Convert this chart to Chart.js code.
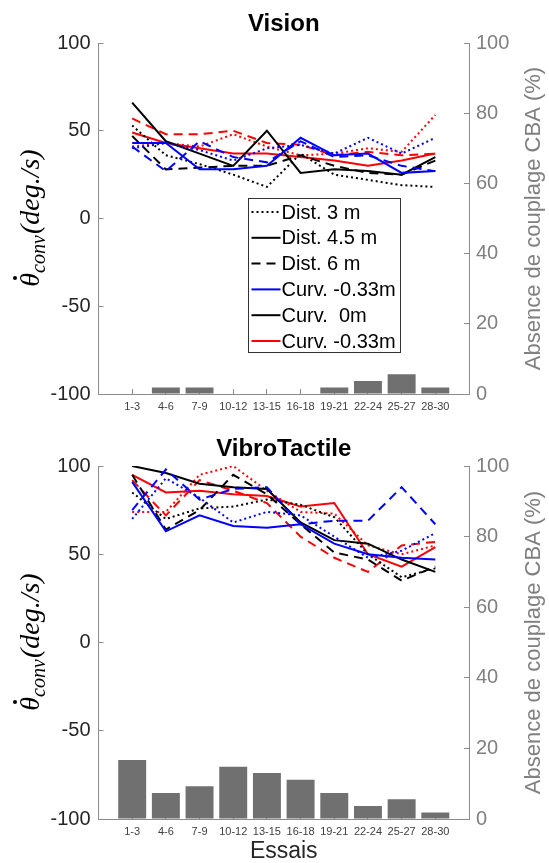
<!DOCTYPE html>
<html>
<head>
<meta charset="utf-8">
<style>
  html, body { margin: 0; padding: 0; background: #fff; }
  #wrap { position: relative; width: 549px; height: 863px; }
  canvas { position: absolute; left: 0; }
</style>
</head>
<body>
<div id="wrap">
  <canvas id="vision" width="549" height="432" style="top:0px"></canvas>
  <canvas id="vibro" width="549" height="431" style="top:432px"></canvas>
</div>

<script src="https://cdn.jsdelivr.net/npm/chart.js"></script>

<script>
    // x categories (trials), blanks at both ends leave the MATLAB-style margin
    var trials = ['1-3', '4-6', '7-9', '10-12', '13-15', '16-18', '19-21', '22-24', '25-27', '28-30'];

    // Vision : convergence speed (deg/s), colour = curvature, style = distance
    var visBlue3m   = [40, 43, 39, 33, 40, 42, 37, 46, 37, 46];
    var visBlue45m  = [43, 43, 28, 28, 30, 46, 36, 37, 26, 27];
    var visBlue6m   = [41, 27, 44, 35, 32, 44, 35, 36, 30, 27];
    var visBlack3m  = [53, 36, 31, 25, 18, 37, 25, 22, 19, 18];
    var visBlack45m = [66, 44, 37, 30, 50, 26, 28, 27, 25, 35];
    var visBlack6m  = [47, 28, 29, 30, 30, 36, 30, 26, 25, 33];
    var visRed3m    = [41, 43, 41, 48, 41, 36, 37, 40, 38, 59];
    var visRed45m   = [49, 43, 40, 37, 37, 35, 33, 30, 33, 37];
    var visRed6m    = [57, 48, 48, 50, 43, 42, 36, 38, 36, 37];
    // Vision : absence of CBA coupling (%)
    var visAbsence  = [0, 1.85, 1.85, 0, 0, 0, 1.85, 3.7, 5.6, 1.85];

    // VibroTactile
    var vibBlue3m   = [70, 93, 82, 68, 74, 72, 60, 48, 52, 62];
    var vibBlue45m  = [91, 63, 72, 66, 65, 67, 56, 50, 48, 47];
    var vibBlue6m   = [75, 98, 81, 87, 88, 67, 69, 69, 88, 67];
    var vibBlack3m  = [85, 70, 76, 77, 81, 78, 71, 50, 37, 42];
    var vibBlack45m = [100, 96, 90, 88, 87, 68, 58, 56, 47, 40];
    var vibBlack6m  = [95, 64, 75, 95, 84, 67, 51, 47, 35, 43];
    var vibRed3m    = [74, 74, 95, 100, 86, 74, 73, 55, 50, 55];
    var vibRed45m   = [95, 85, 86, 84, 83, 77, 79, 50, 43, 54];
    var vibRed6m    = [92, 72, 92, 86, 79, 60, 48, 40, 55, 57];
    var vibAbsence  = [16.7, 7.4, 9.3, 14.8, 13, 11.1, 7.4, 3.7, 5.6, 1.85];

    var legendLabels = ['Dist. 3 m', 'Dist. 4.5 m', 'Dist. 6 m', 'Curv. -0.33m', 'Curv.  0m', 'Curv. -0.33m'];

    var SANS = '"Liberation Sans", Arial, Helvetica, sans-serif';
    var SERIF = '"Liberation Serif", "DejaVu Serif", serif';
    var BLUE = '#0000ff', BLACK = '#000000', RED = '#ff0000';
    var DOT = [2, 3], SOLID = [], DASH = [9, 6];

    var legendStyles = [
        {color: BLACK, dash: DOT},
        {color: BLACK, dash: SOLID},
        {color: BLACK, dash: DASH},
        {color: BLUE, dash: SOLID},
        {color: BLACK, dash: SOLID},
        {color: RED, dash: SOLID}
    ];

    function pad(arr) {
        return [null].concat(arr, [null]);
    }

    function lineSet(values, color, dash) {
        return {
            type: 'line',
            data: pad(values),
            borderColor: color,
            borderWidth: 2,
            borderDash: dash,
            pointRadius: 0,
            fill: false,
            tension: 0,
            yAxisID: 'y',
            order: 1
        };
    }

    // titles, rotated axis labels, legend box
    var decor = {
        id: 'decor',
        afterDraw: function (chart, args, o) {
            var ctx = chart.ctx, a = chart.chartArea;
            var midY = (a.top + a.bottom) / 2;
            ctx.save();
            ctx.fillStyle = '#000';
            ctx.font = 'bold 24px ' + SANS;
            ctx.textAlign = 'center';
            ctx.textBaseline = 'middle';
            ctx.fillText(o.title, (a.left + a.right) / 2, o.titleY);

            // left label: theta-dot with "conv" subscript
            ctx.save();
            ctx.translate(39, midY);
            ctx.rotate(-Math.PI / 2);
            ctx.textAlign = 'left';
            ctx.textBaseline = 'alphabetic';
            var big = 'italic 28px ' + SERIF, small = 'italic 20px ' + SERIF;
            ctx.font = big;
            var w1 = ctx.measureText('\u03B8').width;
            var w3 = ctx.measureText('(deg./s)').width;
            ctx.font = small;
            var w2 = ctx.measureText('conv').width;
            var x = -(w1 + w2 + w3) / 2;
            ctx.font = big;
            ctx.fillText('\u03B8', x, 0);
            ctx.beginPath();
            ctx.arc(x + w1 * 0.62, -24, 2, 0, Math.PI * 2);
            ctx.fill();
            x += w1;
            ctx.font = small;
            ctx.fillText('conv', x, 6);
            x += w2 + 1;
            ctx.font = big;
            ctx.fillText('(deg./s)', x, 0);
            ctx.restore();

            // right label
            ctx.save();
            ctx.translate(540, midY);
            ctx.rotate(-Math.PI / 2);
            ctx.fillStyle = '#808080';
            ctx.font = '22px ' + SANS;
            ctx.textAlign = 'center';
            ctx.textBaseline = 'alphabetic';
            ctx.fillText('Absence de couplage CBA (%)', 0, 0);
            ctx.restore();

            if (o.legend) {
                var lx = 248.5, ly = 198.5, lw = 152, lh = 154, row = 25.8;
                ctx.fillStyle = '#fff';
                ctx.fillRect(lx, ly, lw, lh);
                ctx.strokeStyle = '#333';
                ctx.lineWidth = 1;
                ctx.strokeRect(lx, ly, lw, lh);
                ctx.font = '20px ' + SANS;
                ctx.textAlign = 'left';
                ctx.textBaseline = 'middle';
                for (var i = 0; i < legendLabels.length; i++) {
                    var cy = ly + 13.5 + i * row;
                    ctx.strokeStyle = legendStyles[i].color;
                    ctx.lineWidth = 2;
                    ctx.setLineDash(legendStyles[i].dash);
                    ctx.beginPath();
                    ctx.moveTo(lx + 3, cy);
                    ctx.lineTo(lx + 32, cy);
                    ctx.stroke();
                    ctx.setLineDash([]);
                    ctx.fillStyle = '#000';
                    ctx.fillText(legendLabels[i], lx + 33, cy + 1);
                }
            }
            ctx.restore();
        }
    };

    function makeChart(id, title, lines, bars, geo) {
        var datasets = [
            lineSet(lines[0], BLUE, DOT), lineSet(lines[1], BLUE, SOLID), lineSet(lines[2], BLUE, DASH),
            lineSet(lines[3], BLACK, DOT), lineSet(lines[4], BLACK, SOLID), lineSet(lines[5], BLACK, DASH),
            lineSet(lines[6], RED, DOT), lineSet(lines[7], RED, SOLID), lineSet(lines[8], RED, DASH),
            {
                type: 'bar',
                data: pad(bars),
                backgroundColor: '#707070',
                yAxisID: 'y2',
                barPercentage: 0.83,
                categoryPercentage: 1,
                order: 10
            }
        ];
        return new Chart(document.getElementById(id), {
            type: 'bar',
            data: {labels: [''].concat(trials, ['']), datasets: datasets},
            plugins: [decor],
            options: {
                responsive: false,
                animation: false,
                layout: {padding: {top: geo.top, left: 0, right: 0, bottom: 0}},
                plugins: {
                    legend: {display: false},
                    tooltip: {enabled: false},
                    decor: {title: title, titleY: geo.titleY, legend: geo.legend}
                },
                scales: {
                    x: {
                        type: 'category',
                        offset: false,
                        grid: {offset: false, drawOnChartArea: false, drawTicks: true, tickLength: -5, color: '#8c8c8c'},
                        border: {display: true, color: '#8c8c8c', width: 1},
                        ticks: {color: '#404040', font: {size: 11, family: SANS}, padding: 11, maxRotation: 0, autoSkip: false},
                        title: {
                            display: geo.xTitle, text: 'Essais', color: '#262626',
                            font: {size: 23, family: SANS, lineHeight: 1}, padding: {top: 0, bottom: 0}
                        },
                        afterFit: function (s) { s.height = geo.xHeight; }
                    },
                    y: {
                        position: 'left',
                        min: -100, max: 100,
                        ticks: {stepSize: 50, color: '#262626', font: {size: 20, family: SANS}, padding: 13},
                        grid: {drawOnChartArea: false, drawTicks: true, tickLength: -5, color: '#8c8c8c'},
                        border: {display: true, color: '#8c8c8c', width: 1},
                        afterFit: function (s) { s.width = 98.5; }
                    },
                    y2: {
                        position: 'right',
                        min: 0, max: 100,
                        ticks: {stepSize: 20, color: '#808080', font: {size: 20, family: SANS}, padding: 12},
                        grid: {drawOnChartArea: false, drawTicks: true, tickLength: -5, color: '#8c8c8c'},
                        border: {display: true, color: '#8c8c8c', width: 1},
                        afterFit: function (s) { s.width = 80; }
                    }
                }
            }
        });
    }

    makeChart('vision', 'Vision',
        [visBlue3m, visBlue45m, visBlue6m, visBlack3m, visBlack45m, visBlack6m, visRed3m, visRed45m, visRed6m],
        visAbsence,
        {top: 43, xHeight: 38, titleY: 24, legend: true, xTitle: false});

    makeChart('vibro', 'VibroTactile',
        [vibBlue3m, vibBlue45m, vibBlue6m, vibBlack3m, vibBlack45m, vibBlack6m, vibRed3m, vibRed45m, vibRed6m],
        vibAbsence,
        {top: 34, xHeight: 44, titleY: 17, legend: false, xTitle: true});
</script>
</body>
</html>
